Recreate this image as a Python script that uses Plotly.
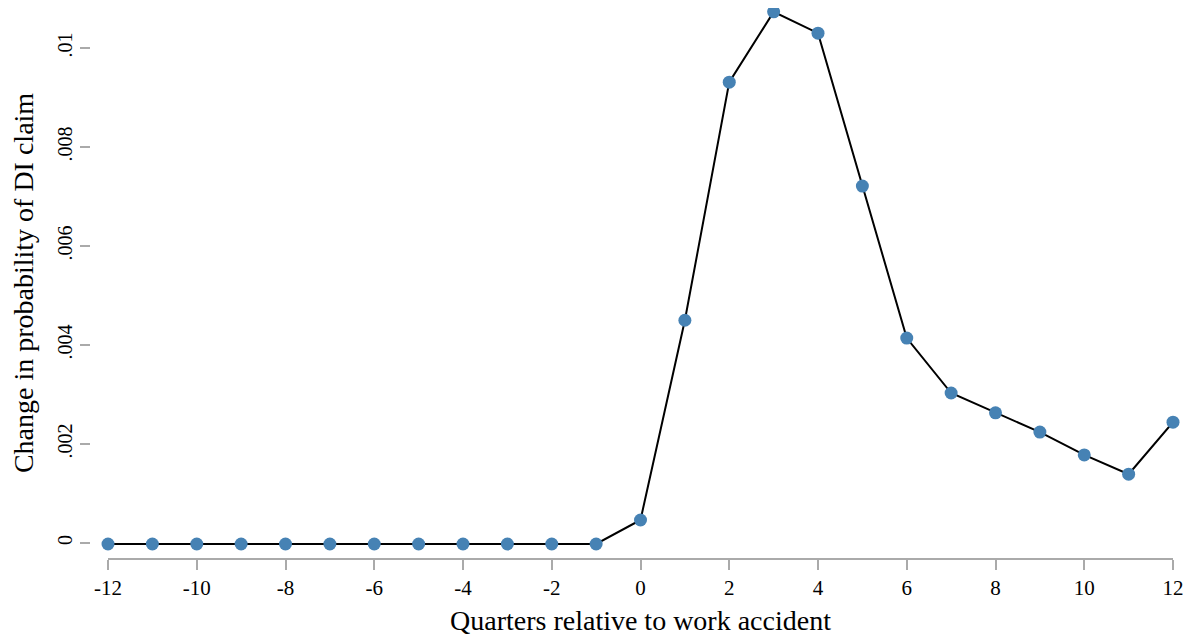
import plotly.graph_objects as go

quarters = list(range(-12, 13))
change_prob = [-0.00002, -0.00002, -0.00002, -0.00002, -0.00002, -0.00002,
               -0.00002, -0.00002, -0.00002, -0.00002, -0.00002, -0.00002,
               0.000465, 0.0045, 0.00931, 0.01073, 0.0103, 0.00721,
               0.00414, 0.00303, 0.00263, 0.00224, 0.00178, 0.00139, 0.00244]
y_tickvals = [0, 0.002, 0.004, 0.006, 0.008, 0.01]
y_ticktext = ["0", ".002", ".004", ".006", ".008", ".01"]
x_tickvals = list(range(-12, 13, 2))
x_ticktext = ["-12", "-10", "-8", "-6", "-4", "-2", "0", "2", "4", "6", "8", "10", "12"]

OFF = 8  # page body margin
W, H = 1193 - 2 * OFF, 644 - 2 * OFF
ml, mr, mt, mb = 12, 4, 0, H - (558 - OFF)
pw = W - ml - mr

def fx(px):
    return (px - OFF - ml) / pw

font = dict(family="Liberation Serif, Times New Roman, serif", color="black")

fig = go.Figure()
fig.add_trace(go.Scatter(
    x=quarters, y=change_prob, mode="lines+markers",
    line=dict(color="black", width=2),
    marker=dict(color="#4682B4", size=13),
    cliponaxis=False, showlegend=False,
))

fig.update_layout(
    width=W, height=H,
    margin=dict(l=ml, r=mr, t=mt, b=mb, autoexpand=False),
    plot_bgcolor="white", paper_bgcolor="white",
    font=font,
    xaxis=dict(
        domain=[fx(108), fx(1173)], range=[-12, 12], automargin=False,
        tickvals=x_tickvals, ticktext=x_ticktext,
        ticks="outside", ticklen=10, tickwidth=1.5,
        tickcolor="#aaaaaa", showline=True, linecolor="#aaaaaa", linewidth=1.5,
        showgrid=False, zeroline=False,
        tickfont=dict(size=21, **font),
        title=dict(text="Quarters relative to work accident", font=dict(size=28, **font), standoff=12),
    ),
    yaxis=dict(
        anchor="free", position=fx(90), automargin=False,
        range=[-0.000303, (543 - OFF) / 49500],
        tickvals=y_tickvals, ticktext=y_ticktext, tickangle=-90,
        ticks="outside", ticklen=10, tickwidth=1.5, tickcolor="#aaaaaa",
        showline=False, showgrid=False, zeroline=False,
        tickfont=dict(size=20, **font),
        title=dict(text="Change in probability of DI claim", font=dict(size=28, **font), standoff=12),
    ),
)

fig.write_html("out.html")
